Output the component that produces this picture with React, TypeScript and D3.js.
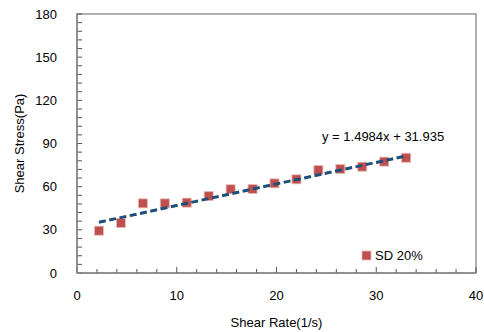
import { useEffect, useRef } from "react";
import * as d3 from "d3";

// shear rate (1/s) and shear stress (Pa)
const shearRate = [2.2, 4.4, 6.6, 8.8, 11.0, 13.2, 15.4, 17.6, 19.8, 22.0, 24.2, 26.4, 28.6, 30.8, 33.0];
const shearStress = [29.4, 34.7, 48.4, 48.4, 48.9, 53.5, 58.2, 58.4, 62.3, 65.1, 71.6, 72.3, 73.9, 77.4, 80.1];
const xTicks = [0, 10, 20, 30, 40];
const yTicks = [0, 30, 60, 90, 120, 150, 180];
const seriesName = "SD 20%";
// fitted trendline shown on the chart
const slope = 1.4984;
const intercept = 31.935;

const W = 484;
const H = 332;
const m = { l: 77, r: 8, t: 14, b: 59 };
const font = "Liberation Sans, Arial, sans-serif";

const App = () => {
  const svgRef = useRef<SVGSVGElement>(null);

  useEffect(() => {
    const svg = d3.select(svgRef.current);
    svg.selectAll("*").remove();

    const xScale = d3.scaleLinear().domain([0, 40]).range([m.l, W - m.r]);
    const yScale = d3.scaleLinear().domain([0, 180]).range([H - m.b, m.t]);

    // plot border
    svg
      .append("rect")
      .attr("x", m.l)
      .attr("y", m.t)
      .attr("width", W - m.r - m.l)
      .attr("height", H - m.b - m.t)
      .attr("fill", "white")
      .attr("stroke", "#868686")
      .attr("stroke-width", 1.3);

    // minor ticks, pointing inward
    const xMinor = d3.range(0, 41, 2);
    svg
      .append("g")
      .selectAll("line")
      .data(xMinor)
      .join("line")
      .attr("x1", (d) => xScale(d))
      .attr("x2", (d) => xScale(d))
      .attr("y1", yScale(0))
      .attr("y2", (d) => yScale(0) - (d % 10 === 0 ? 6 : 4))
      .attr("stroke", "#555")
      .attr("stroke-width", 1);

    const yMinor = d3.range(0, 181, 6);
    svg
      .append("g")
      .selectAll("line")
      .data(yMinor)
      .join("line")
      .attr("x1", xScale(0))
      .attr("x2", xScale(0) + 5)
      .attr("y1", (d) => yScale(d))
      .attr("y2", (d) => yScale(d))
      .attr("stroke", "#555")
      .attr("stroke-width", 1);

    // axis lines on top
    svg
      .append("line")
      .attr("x1", xScale(0))
      .attr("x2", xScale(40))
      .attr("y1", yScale(0))
      .attr("y2", yScale(0))
      .attr("stroke", "#868686")
      .attr("stroke-width", 1.5);
    svg
      .append("line")
      .attr("x1", xScale(0))
      .attr("x2", xScale(0))
      .attr("y1", yScale(0))
      .attr("y2", yScale(180))
      .attr("stroke", "#868686")
      .attr("stroke-width", 1.5);

    // tick labels
    svg
      .append("g")
      .selectAll("text")
      .data(xTicks)
      .join("text")
      .attr("x", (d) => xScale(d))
      .attr("y", yScale(0) + 27)
      .attr("text-anchor", "middle")
      .attr("font-family", font)
      .attr("font-size", 13)
      .attr("fill", "#000")
      .text((d) => d);

    svg
      .append("g")
      .selectAll("text")
      .data(yTicks)
      .join("text")
      .attr("x", xScale(0) - 20)
      .attr("y", (d) => yScale(d) + 4.5)
      .attr("text-anchor", "end")
      .attr("font-family", font)
      .attr("font-size", 13)
      .attr("fill", "#000")
      .text((d) => d);

    // axis titles
    svg
      .append("text")
      .attr("x", (xScale(0) + xScale(40)) / 2)
      .attr("y", 327)
      .attr("text-anchor", "middle")
      .attr("font-family", font)
      .attr("font-size", 13)
      .text("Shear Rate(1/s)");

    svg
      .append("text")
      .attr("transform", "rotate(-90)")
      .attr("x", -(yScale(0) + yScale(180)) / 2)
      .attr("y", 24)
      .attr("text-anchor", "middle")
      .attr("font-family", font)
      .attr("font-size", 13)
      .text("Shear Stress(Pa)");

    const data = shearRate.map((x, i) => ({ x, y: shearStress[i] }));

    // markers
    svg
      .append("g")
      .selectAll("rect")
      .data(data)
      .join("rect")
      .attr("x", (d) => xScale(d.x) - 4.5)
      .attr("y", (d) => yScale(d.y) - 4.5)
      .attr("width", 9)
      .attr("height", 9)
      .attr("fill", "#C0504D")
      .attr("stroke", "#E6B9B8")
      .attr("stroke-width", 0.8);

    // trendline
    const xExt = d3.extent(shearRate) as [number, number];
    const line = d3
      .line<number>()
      .x((d) => xScale(d))
      .y((d) => yScale(slope * d + intercept));
    svg
      .append("path")
      .attr("d", line(xExt))
      .attr("stroke", "#1F4E79")
      .attr("stroke-width", 3)
      .attr("stroke-dasharray", "7,3.5")
      .attr("fill", "none");

    svg
      .append("text")
      .attr("x", 322)
      .attr("y", 141)
      .attr("font-family", font)
      .attr("font-size", 13)
      .text(`y = ${slope}x + ${intercept}`);

    // legend
    svg
      .append("rect")
      .attr("x", 362)
      .attr("y", 251)
      .attr("width", 9)
      .attr("height", 9)
      .attr("fill", "#C0504D")
      .attr("stroke", "#E6B9B8")
      .attr("stroke-width", 0.8);
    svg
      .append("text")
      .attr("x", 375)
      .attr("y", 260)
      .attr("font-family", font)
      .attr("font-size", 13)
      .text(seriesName);
  }, []);

  return (
    <svg
      ref={svgRef}
      width={W}
      height={H}
      style={{ position: "absolute", left: 0, top: 0, background: "white" }}
    />
  );
};

export default App;
